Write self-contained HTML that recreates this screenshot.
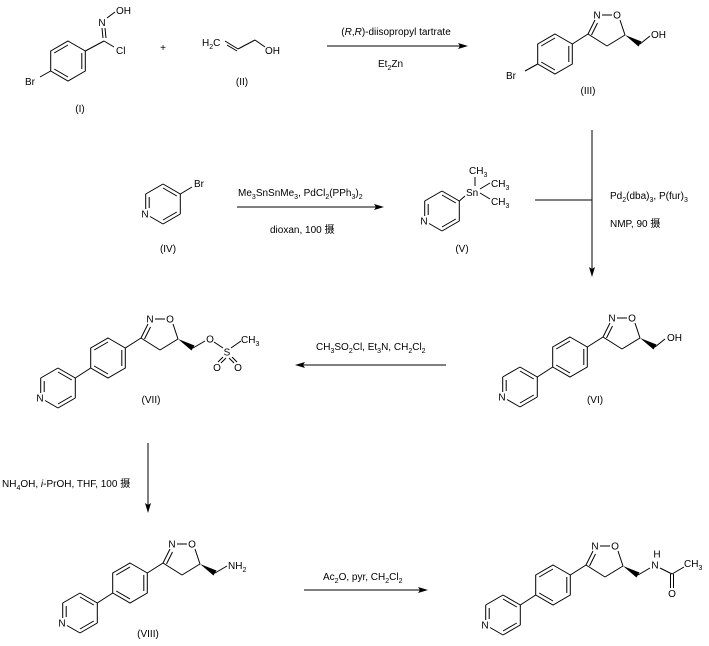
<!DOCTYPE html>
<html><head><meta charset="utf-8"><style>
html,body{margin:0;padding:0;background:#fff;}
svg{display:block;font-family:"Liberation Sans","Noto Sans CJK SC",sans-serif;font-size:10px;}
line,polyline,polygon.r{stroke:#000;stroke-width:1;fill:none;}
text{fill:#000;}
</style></head><body>
<svg width="709" height="646" viewBox="0 0 709 646" xmlns="http://www.w3.org/2000/svg">
<defs>
<g id="ph">
<polygon class="r" points="0,-20 17.3,-10 17.3,10 0,20 -17.3,10 -17.3,-10"/>
<line x1="-13.8" y1="-8" x2="0" y2="-16"/>
<line x1="13.8" y1="-8" x2="13.8" y2="8"/>
<line x1="0" y1="16" x2="-13.8" y2="8"/>
</g>
<g id="isox">
<line x1="17.3" y1="-10" x2="33" y2="-20"/>
<line x1="33" y1="-20" x2="40" y2="-34"/>
<line x1="36.5" y1="-19" x2="42.5" y2="-31"/>
<line x1="47" y1="-39" x2="57" y2="-39"/>
<line x1="65" y1="-34" x2="70" y2="-19"/>
<line x1="70" y1="-19" x2="52" y2="-8"/>
<line x1="52" y1="-8" x2="33" y2="-20"/>
<text x="42" y="-35.5" text-anchor="middle">N</text>
<text x="62" y="-35.5" text-anchor="middle">O</text>
<polygon points="70,-19 83.5,-7.5 86.5,-12.5" fill="#000"/>
</g>
<g id="pyr">
<line x1="-50" y1="10" x2="-32.7" y2="20"/>
<line x1="-32.7" y1="20" x2="-32.7" y2="40"/>
<line x1="-32.7" y1="40" x2="-50" y2="50"/>
<line x1="-50" y1="50" x2="-63" y2="42.5"/>
<line x1="-67.3" y1="35" x2="-67.3" y2="20"/>
<line x1="-67.3" y1="20" x2="-50" y2="10"/>
<line x1="-63.8" y1="23" x2="-63.8" y2="34"/>
<line x1="-50" y1="14" x2="-36.2" y2="22"/>
<line x1="-36.2" y1="38" x2="-50" y2="46"/>
<text x="-68" y="43.5" text-anchor="middle">N</text>
</g>
<g id="biaryl">
<use href="#ph"/>
<use href="#isox"/>
<line x1="-17.3" y1="10" x2="-32.7" y2="20"/>
<use href="#pyr"/>
</g>
</defs>

<!-- I -->
<g transform="translate(68,61)">
<use href="#ph"/>
<line x1="17.3" y1="-10" x2="36" y2="-20"/>
<line x1="35" y1="-23" x2="34" y2="-33"/>
<line x1="38" y1="-23" x2="37" y2="-33"/>
<line x1="39" y1="-43" x2="47" y2="-49"/>
<line x1="36" y1="-20" x2="46" y2="-14"/>
<line x1="-17.3" y1="10" x2="-28" y2="16"/>
</g>
<text x="102" y="26" text-anchor="middle">N</text>
<text x="116" y="14">OH</text>
<text x="116" y="54">Cl</text>
<text x="25" y="85">Br</text>
<text x="80" y="112" text-anchor="middle">(I)</text>
<text x="163" y="51" text-anchor="middle">+</text>
<!-- II -->
<text x="202" y="46">H<tspan font-size="7" dy="3">2</tspan><tspan dy="-3">C</tspan></text>
<line x1="225" y1="41" x2="238" y2="49"/>
<line x1="227" y1="45" x2="237" y2="51"/>
<line x1="238" y1="49" x2="255" y2="40"/>
<line x1="255" y1="40" x2="265" y2="47"/>
<text x="265" y="54">OH</text>
<text x="242" y="85" text-anchor="middle">(II)</text>
<!-- arrow 1 -->
<line x1="327" y1="46" x2="462" y2="46"/>
<polygon points="468,46 458,43 460,46 458,49" fill="#000"/>
<text x="396" y="35" text-anchor="middle">(<tspan font-style="italic">R</tspan>,<tspan font-style="italic">R</tspan>)-diisopropyl tartrate</text>
<text x="378" y="67">Et<tspan font-size="7" dy="3">2</tspan><tspan dy="-3">Zn</tspan></text>
<!-- III -->
<g transform="translate(555,54)">
<use href="#ph"/>
<use href="#isox"/>
<line x1="-17.3" y1="10" x2="-30" y2="17"/>
<line x1="85" y1="-10" x2="95" y2="-18"/>
</g>
<text x="506" y="79">Br</text>
<text x="651" y="38">OH</text>
<text x="588" y="94" text-anchor="middle">(III)</text>

<!-- IV -->
<g transform="translate(213,174)">
<use href="#pyr"/>
<line x1="-32.7" y1="20" x2="-21" y2="13"/>
</g>
<text x="194" y="187">Br</text>
<text x="168" y="252" text-anchor="middle">(IV)</text>
<line x1="237" y1="207" x2="377" y2="207"/>
<polygon points="384,207 374,204 376,207 374,210" fill="#000"/>
<text x="238" y="196">Me<tspan font-size="7" dy="3">3</tspan><tspan dy="-3">SnSnMe</tspan><tspan font-size="7" dy="3">3</tspan><tspan dy="-3">, PdCl</tspan><tspan font-size="7" dy="3">2</tspan><tspan dy="-3">(PPh</tspan><tspan font-size="7" dy="3">3</tspan><tspan dy="-3">)</tspan><tspan font-size="7" dy="3">2</tspan></text>
<text x="270" y="233">dioxan, 100 摄</text>
<!-- V -->
<g transform="translate(492,181)">
<use href="#pyr"/>
</g>
<line x1="459.3" y1="201" x2="465" y2="196"/>
<text x="466" y="196">Sn</text>
<line x1="475" y1="177" x2="475" y2="186"/>
<line x1="480" y1="189" x2="490" y2="183"/>
<line x1="480" y1="193" x2="490" y2="199"/>
<text x="469" y="174">CH<tspan font-size="7" dy="3">3</tspan></text>
<text x="491" y="187">CH<tspan font-size="7" dy="3">3</tspan></text>
<text x="491" y="205">CH<tspan font-size="7" dy="3">3</tspan></text>
<text x="462" y="252" text-anchor="middle">(V)</text>
<line x1="535" y1="200" x2="592" y2="200"/>
<line x1="592" y1="130" x2="592" y2="270"/>
<polygon points="592,277 589,267 592,269 595,267" fill="#000"/>
<text x="610" y="199">Pd<tspan font-size="7" dy="3">2</tspan><tspan dy="-3">(dba)</tspan><tspan font-size="7" dy="3">3</tspan><tspan dy="-3">, P(fur)</tspan><tspan font-size="7" dy="3">3</tspan></text>
<text x="610" y="227">NMP, 90 摄</text>

<!-- VI -->
<g transform="translate(570,357)">
<use href="#biaryl"/>
<line x1="85" y1="-10" x2="95" y2="-18"/>
</g>
<text x="667" y="341">OH</text>
<text x="595" y="403" text-anchor="middle">(VI)</text>
<!-- arrow VI->VII -->
<line x1="302" y1="365" x2="446" y2="365"/>
<polygon points="295,365 305,362 303,365 305,368" fill="#000"/>
<text x="316" y="350">CH<tspan font-size="7" dy="3">3</tspan><tspan dy="-3">SO</tspan><tspan font-size="7" dy="3">2</tspan><tspan dy="-3">Cl, Et</tspan><tspan font-size="7" dy="3">3</tspan><tspan dy="-3">N, CH</tspan><tspan font-size="7" dy="3">2</tspan><tspan dy="-3">Cl</tspan><tspan font-size="7" dy="3">2</tspan></text>
<!-- VII -->
<g transform="translate(108,358)">
<use href="#biaryl"/>
<line x1="85" y1="-10" x2="97" y2="-17"/>
<text x="102" y="-15.5" text-anchor="middle">O</text>
<line x1="106" y1="-16" x2="115" y2="-10"/>
<text x="119" y="-2.5" text-anchor="middle">S</text>
<line x1="123" y1="-10" x2="133" y2="-17"/>
<text x="133" y="-15">CH<tspan font-size="7" dy="3">3</tspan></text>
<line x1="115" y1="-1" x2="110" y2="4"/>
<line x1="118" y1="0" x2="113" y2="5"/>
<line x1="121" y1="0" x2="126" y2="5"/>
<line x1="124" y1="-1" x2="129" y2="4"/>
<text x="109" y="13" text-anchor="middle">O</text>
<text x="130" y="13" text-anchor="middle">O</text>
</g>
<text x="151" y="403" text-anchor="middle">(VII)</text>
<!-- arrow VII->VIII -->
<line x1="148" y1="443" x2="148" y2="506"/>
<polygon points="148,513 145,503 148,505 151,503" fill="#000"/>
<text x="2" y="487">NH<tspan font-size="7" dy="3">4</tspan><tspan dy="-3">OH, </tspan><tspan font-style="italic">i</tspan>-PrOH, THF, 100 摄</text>
<!-- VIII -->
<g transform="translate(130,583)">
<use href="#biaryl"/>
<line x1="85" y1="-10" x2="97" y2="-17"/>
<text x="98" y="-14">NH<tspan font-size="7" dy="3">2</tspan></text>
</g>
<text x="148" y="637" text-anchor="middle">(VIII)</text>
<!-- arrow VIII->IX -->
<line x1="304" y1="590" x2="421" y2="590"/>
<polygon points="428,590 418,587 420,590 418,593" fill="#000"/>
<text x="323" y="580">Ac<tspan font-size="7" dy="3">2</tspan><tspan dy="-3">O, pyr, CH</tspan><tspan font-size="7" dy="3">2</tspan><tspan dy="-3">Cl</tspan><tspan font-size="7" dy="3">2</tspan></text>
<!-- final -->
<g transform="translate(553,585)">
<use href="#biaryl"/>
<line x1="85" y1="-10" x2="97" y2="-17"/>
<text x="102" y="-16.5" text-anchor="middle">N</text>
<text x="104" y="-27.5" text-anchor="middle">H</text>
<line x1="107" y1="-17" x2="119" y2="-11"/>
<line x1="119" y1="-11" x2="131" y2="-18"/>
<text x="131" y="-18">CH<tspan font-size="7" dy="3">3</tspan></text>
<line x1="117.5" y1="-11" x2="117.5" y2="3"/>
<line x1="120.5" y1="-11" x2="120.5" y2="3"/>
<text x="119" y="12" text-anchor="middle">O</text>
</g>
</svg>
</body></html>
